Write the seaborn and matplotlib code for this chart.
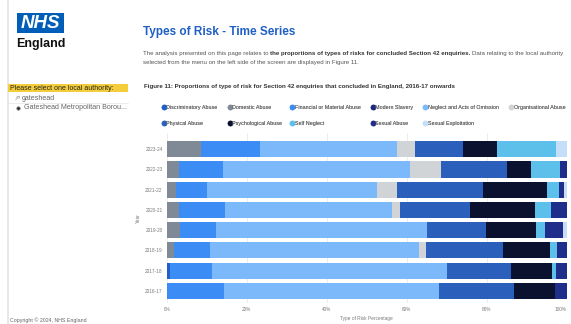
#!/usr/bin/env python3

import pandas as pd
import matplotlib.pyplot as plt
from matplotlib.lines import Line2D
from matplotlib.patches import Rectangle, Circle
import seaborn as sns

W, H = 571, 324

years = ["2023-24", "2022-23", "2021-22", "2020-21", "2019-20", "2018-19", "2017-18", "2016-17"]

risk_types = [
    "Discriminatory Abuse", "Domestic Abuse", "Financial or Material Abuse", "Modern Slavery",
    "Neglect and Acts of Omission", "Organisational Abuse", "Physical Abuse", "Psychological Abuse",
    "Self Neglect", "Sexual Abuse", "Sexual Exploitation",
]

# percentages per year, same order as `years`
discriminatory = [0.0, 0.0, 0.0, 0.0, 0.0, 0.0, 0.8, 0.0]
domestic = [8.6, 3.1, 2.2, 3.0, 3.3, 1.7, 0.0, 0.0]
financial = [14.7, 11.0, 8.0, 11.5, 9.0, 9.2, 10.4, 14.4]
modern_slavery = [0.0, 0.0, 0.0, 0.0, 0.0, 0.0, 0.0, 0.0]
neglect = [34.4, 46.6, 42.4, 41.9, 52.9, 52.2, 59.0, 53.8]
organisational = [4.3, 8.0, 5.1, 1.9, 0.0, 1.7, 0.0, 0.0]
physical = [12.0, 16.4, 21.3, 17.5, 14.7, 19.4, 16.0, 18.6]
psychological = [8.5, 5.9, 16.0, 16.4, 12.3, 11.6, 10.2, 10.2]
self_neglect = [14.7, 7.2, 3.0, 4.0, 2.4, 1.9, 0.8, 0.0]
sexual_abuse = [0.0, 1.8, 1.2, 3.8, 4.4, 2.3, 2.8, 3.0]
sexual_exploitation = [2.8, 0.0, 0.8, 0.0, 1.0, 0.0, 0.0, 0.0]

colors = [
    "#1F5FC6", "#7F8A96", "#3B8DF5", "#1A2A7C", "#7BB9FA", "#D0D4D7",
    "#2B5FBC", "#0A1230", "#5CC0EA", "#1E2E8A", "#C5DEFA",
]

x_ticks = [0, 20, 40, 60, 80, 100]
x_tick_labels = ["0%", "20%", "40%", "60%", "80%", "100%"]


def fx(x):
    return x / W


def fy(y):
    return 1 - y / H


def rich_line(fig, x, y, parts, size):
    # lay out normal/bold runs one after the other on one line
    r = fig.canvas.get_renderer()
    cur = fx(x)
    for txt, bold, col in parts:
        weight = "bold" if bold else "normal"
        t = fig.text(cur, fy(y), txt, fontsize=size, color=col, va="center", fontweight=weight)
        cur += t.get_window_extent(renderer=r).width / W
        p1 = fig.text(0, 0, "a a", fontsize=size, fontweight=weight)
        p2 = fig.text(0, 0, "aa", fontsize=size, fontweight=weight)
        cur += (p1.get_window_extent(renderer=r).width - p2.get_window_extent(renderer=r).width) / W
        p1.remove()
        p2.remove()


def main():
    sns.set_theme(style="white")
    plt.rcParams["font.family"] = ["Liberation Sans", "DejaVu Sans"]

    df = pd.DataFrame({
        "year": years,
        "Discriminatory Abuse": discriminatory,
        "Domestic Abuse": domestic,
        "Financial or Material Abuse": financial,
        "Modern Slavery": modern_slavery,
        "Neglect and Acts of Omission": neglect,
        "Organisational Abuse": organisational,
        "Physical Abuse": physical,
        "Psychological Abuse": psychological,
        "Self Neglect": self_neglect,
        "Sexual Abuse": sexual_abuse,
        "Sexual Exploitation": sexual_exploitation,
    })
    cum = df[risk_types].cumsum(axis=1)

    fig = plt.figure(figsize=(W / 100, H / 100), dpi=100)
    fig.patch.set_facecolor("white")
    ax = fig.add_axes([fx(166.7), fy(303), 400 / W, (303 - 133) / H])

    # stacked bars: draw cumulative totals back to front
    for name, col in reversed(list(zip(risk_types, colors))):
        sns.barplot(x=cum[name], y=df["year"], orient="h", color=col, saturation=1,
                    width=0.8, errorbar=None, order=years, linewidth=0, ax=ax)

    ax.set_xlim(0, 100)
    ax.set_ylim(7.6, -0.8)
    ax.set_xticks(x_ticks)
    ax.set_xticklabels(x_tick_labels)
    ax.get_xticklabels()[-1].set_horizontalalignment("right")
    ax.tick_params(axis="both", length=0, labelsize=3.4, labelcolor="#7a7a7a", pad=3)
    ax.grid(axis="x", color="#e6e6e6", linewidth=0.5)
    ax.set_axisbelow(True)
    for s in ax.spines.values():
        s.set_visible(False)
    ax.set_xlabel("Type of Risk Percentage", fontsize=3.4, color="#7a7a7a", labelpad=3)
    ax.set_ylabel("Year", fontsize=3.4, color="#7a7a7a", labelpad=3)

    # legend: 6 columns, row-major like the report
    handles = [Line2D([], [], marker="o", linestyle="", markersize=3, color=c) for c in colors]
    col_x = [161.5, 227.5, 290, 370.5, 423, 509]
    for i, x in enumerate(col_x):
        idx = [i, i + 6] if i < 5 else [i]
        hs = [handles[j] for j in idx]
        ls = [risk_types[j] for j in idx]
        leg = fig.legend(hs, ls, loc="upper left", bbox_to_anchor=(fx(x), fy(105.3)),
                         bbox_transform=fig.transFigure, frameon=False, fontsize=3.9,
                         borderpad=0, borderaxespad=0, handletextpad=0.1, handlelength=0.8,
                         labelspacing=2.0, labelcolor="#666666")
        fig.add_artist(leg)

    # header text
    fig.text(fx(143), fy(31.5), "Types of Risk - Time Series", fontsize=8.5, fontweight="bold",
             color="#1F5FC6", va="center")
    rich_line(fig, 143, 54, [
        ("The analysis presented on this page relates to", False, "#555555"),
        ("the proportions of types of risks for concluded Section 42 enquiries.", True, "#333333"),
        ("Data relating to the local authority", False, "#555555"),
    ], 4.45)
    rich_line(fig, 143, 62.3, [
        ("selected from the menu on the left side of the screen are displayed in Figure 11.", False, "#555555"),
    ], 4.45)
    fig.text(fx(144), fy(86), "Figure 11: Proportions of type of risk for Section 42 enquiries that "
             "concluded in England, 2016-17 onwards", fontsize=4.4, fontweight="bold",
             color="#333333", va="center")

    # left panel
    fig.add_artist(Rectangle((fx(6.5), 0), 2 / W, 1, transform=fig.transFigure,
                             color="#e8e8e8", lw=0))
    fig.add_artist(Rectangle((fx(16.7), fy(33.3)), 47.6 / W, 20 / H, transform=fig.transFigure,
                             color="#005EB8", lw=0))
    fig.text(fx(40.5), fy(23.5), "NHS", fontsize=13.5, fontweight="bold", fontstyle="italic",
             color="white", ha="center", va="center")
    fig.text(fx(16.5), fy(44), "England", fontsize=9, fontweight="bold", color="#111111",
             va="center")
    fig.add_artist(Rectangle((fx(8), fy(92.3)), 120 / W, 8 / H, transform=fig.transFigure,
                             color="#F4CD3A", lw=0))
    fig.text(fx(10.5), fy(88.3), "Please select one local authority:", fontsize=5,
             color="#222222", va="center")
    # search icon (magnifier) drawn as a small ring with a handle
    fig.add_artist(Circle((fx(18.3), fy(97.2)), 1.5 / W, transform=fig.transFigure,
                          fill=False, ec="#888888", lw=0.4))
    fig.add_artist(Line2D([fx(17.2), fx(15.6)], [fy(98.3), fy(99.9)], transform=fig.transFigure,
                          color="#888888", lw=0.4))
    fig.text(fx(22), fy(98), "gateshead", fontsize=5.1, color="#666666", va="center")
    fig.add_artist(Line2D([fx(8), fx(128)], [fy(102.5), fy(102.5)], transform=fig.transFigure,
                          color="#dddddd", lw=0.4))
    fig.add_artist(Line2D([fx(17.5)], [fy(108)], transform=fig.transFigure, marker="o",
                          markersize=2.6, color="#333333", markeredgecolor="#999999",
                          markeredgewidth=0.4, linestyle=""))
    fig.text(fx(24.5), fy(108), "Gateshead Metropolitan Borou...", fontsize=5.1,
             color="#666666", va="center")
    fig.text(fx(10), fy(320), "Copyright \u00a9 2024, NHS England", fontsize=3.8,
             color="#666666", va="center")

    fig.savefig("out.png", dpi=100, facecolor="white")
    plt.close(fig)


if __name__ == "__main__":
    main()
